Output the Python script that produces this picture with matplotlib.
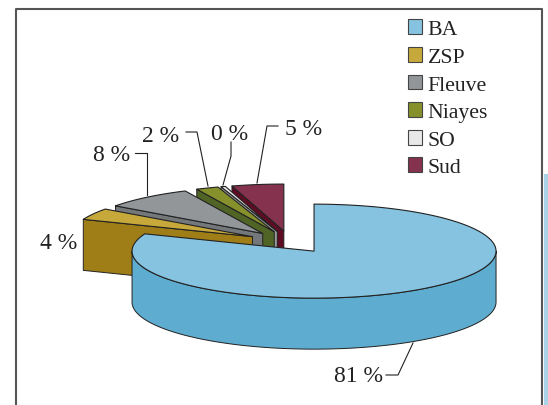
import numpy as np
from matplotlib import pyplot as plt
from matplotlib.patches import Polygon, Rectangle

plt.rcParams['font.family'] = ['Liberation Serif', 'DejaVu Serif']

names = ['BA', 'ZSP', 'Fleuve', 'Niayes', 'SO', 'Sud']
valeurs = [81, 4, 8, 2, 0.4, 4.6]
etiquettes = ['81 %', '4 %', '8 %', '2 %', '0 %', '5 %']
dessus = ['#85C3E0', '#C7A93B', '#929699', '#86912B', '#E8E8E8', '#84324E']
cotes = ['#5EADD0', '#A07E17', '#74787A', '#4F6425', '#9A9C9E', '#5E0C24']

# pie geometry, in pixels of the figure
cx, cy = 290, 243
rx, ry = 182, 47
prof = 51
explode = 0.235
ink = '#222222'

# label position, then the leader line of each label
pos_labels = [(358, 377), (59, 244), (112, 156), (161, 137), (230, 135), (304, 130)]
leaders = [
    [(386, 376), (398, 376), (413, 344)],
    None,
    [(135, 154), (147, 154), (147, 196)],
    [(186, 133), (197, 133), (208, 187)],
    [(231, 143), (231, 157), (223, 186)],
    [(278, 127), (267, 127), (257, 184)],
]


def point(c, a):
    return (c[0] + rx*np.cos(a), c[1] - ry*np.sin(a))


def arc(c, a1, a2):
    t = np.linspace(a1, a2, 200)
    return np.column_stack((c[0] + rx*np.cos(t), c[1] - ry*np.sin(t)))


def draw_slice(ax, a_start, a_end, top, side):
    # a_start > a_end, the pie runs clockwise
    mid = (a_start + a_end)/2
    c = (cx + explode*rx*np.cos(mid), cy - explode*ry*np.sin(mid))
    # radial walls, only the ones turned to the viewer
    for a, normal in ((a_start, a_start + np.pi/2), (a_end, a_end - np.pi/2)):
        if np.sin(normal) < 0:
            p = point(c, a)
            wall = [c, p, (p[0], p[1] + prof), (c[0], c[1] + prof)]
            ax.add_patch(Polygon(wall, fc=side, ec=ink, lw=0.7, joinstyle='round'))
    # outer wall, front half of the ellipse
    for k in range(-2, 2):
        lo = max(a_end, (2*k - 1)*np.pi)
        hi = min(a_start, 2*k*np.pi)
        if hi > lo:
            rim = arc(c, lo, hi)
            wall = np.vstack((rim, rim[::-1] + [0, prof]))
            ax.add_patch(Polygon(wall, fc=side, ec=ink, lw=0.7, joinstyle='round'))
    top_pts = np.vstack(([c], arc(c, a_start, a_end)))
    ax.add_patch(Polygon(top_pts, fc=top, ec=ink, lw=0.8, joinstyle='round'))


def main():
    fig = plt.figure(figsize=(5.48, 4.06), dpi=100)
    ax = fig.add_axes([0, 0, 1, 1])
    ax.set_xlim(0, 548)
    ax.set_ylim(406, 0)
    ax.axis('off')

    # chart frame and the strip of the page behind it
    ax.add_patch(Rectangle((544, 175), 6, 240, fc='#A9D3E6', ec='none'))
    ax.plot([15.5, 15.5, 541.5, 541.5], [420, 10, 10, 420], color='#555555', lw=1.5)

    # angles of each slice, clockwise from the top
    total = sum(valeurs)
    bornes = np.pi/2 - 2*np.pi*np.cumsum([0] + valeurs)/total
    # back slices first, BA comes last
    for i in range(len(valeurs) - 1, -1, -1):
        draw_slice(ax, bornes[i], bornes[i + 1], dessus[i], cotes[i])

    for i in range(len(etiquettes)):
        ax.text(pos_labels[i][0], pos_labels[i][1], etiquettes[i], fontsize=17,
                color=ink, ha='center', va='center')
        if leaders[i]:
            xs = [p[0] for p in leaders[i]]
            ys = [p[1] for p in leaders[i]]
            ax.plot(xs, ys, color=ink, lw=0.8)

    handles = [Rectangle((0, 0), 1, 1, fc=dessus[i], ec='#444444', lw=0.8) for i in range(len(names))]
    ax.legend(handles, names, loc='upper left', bbox_to_anchor=(0.744, 0.95), frameon=False,
              fontsize=15.7, labelcolor=ink, handlelength=0.66, handleheight=0.66,
              handletextpad=0.25, labelspacing=0.35, borderaxespad=0, borderpad=0)

    fig.savefig('out.png', dpi=100)


main()
